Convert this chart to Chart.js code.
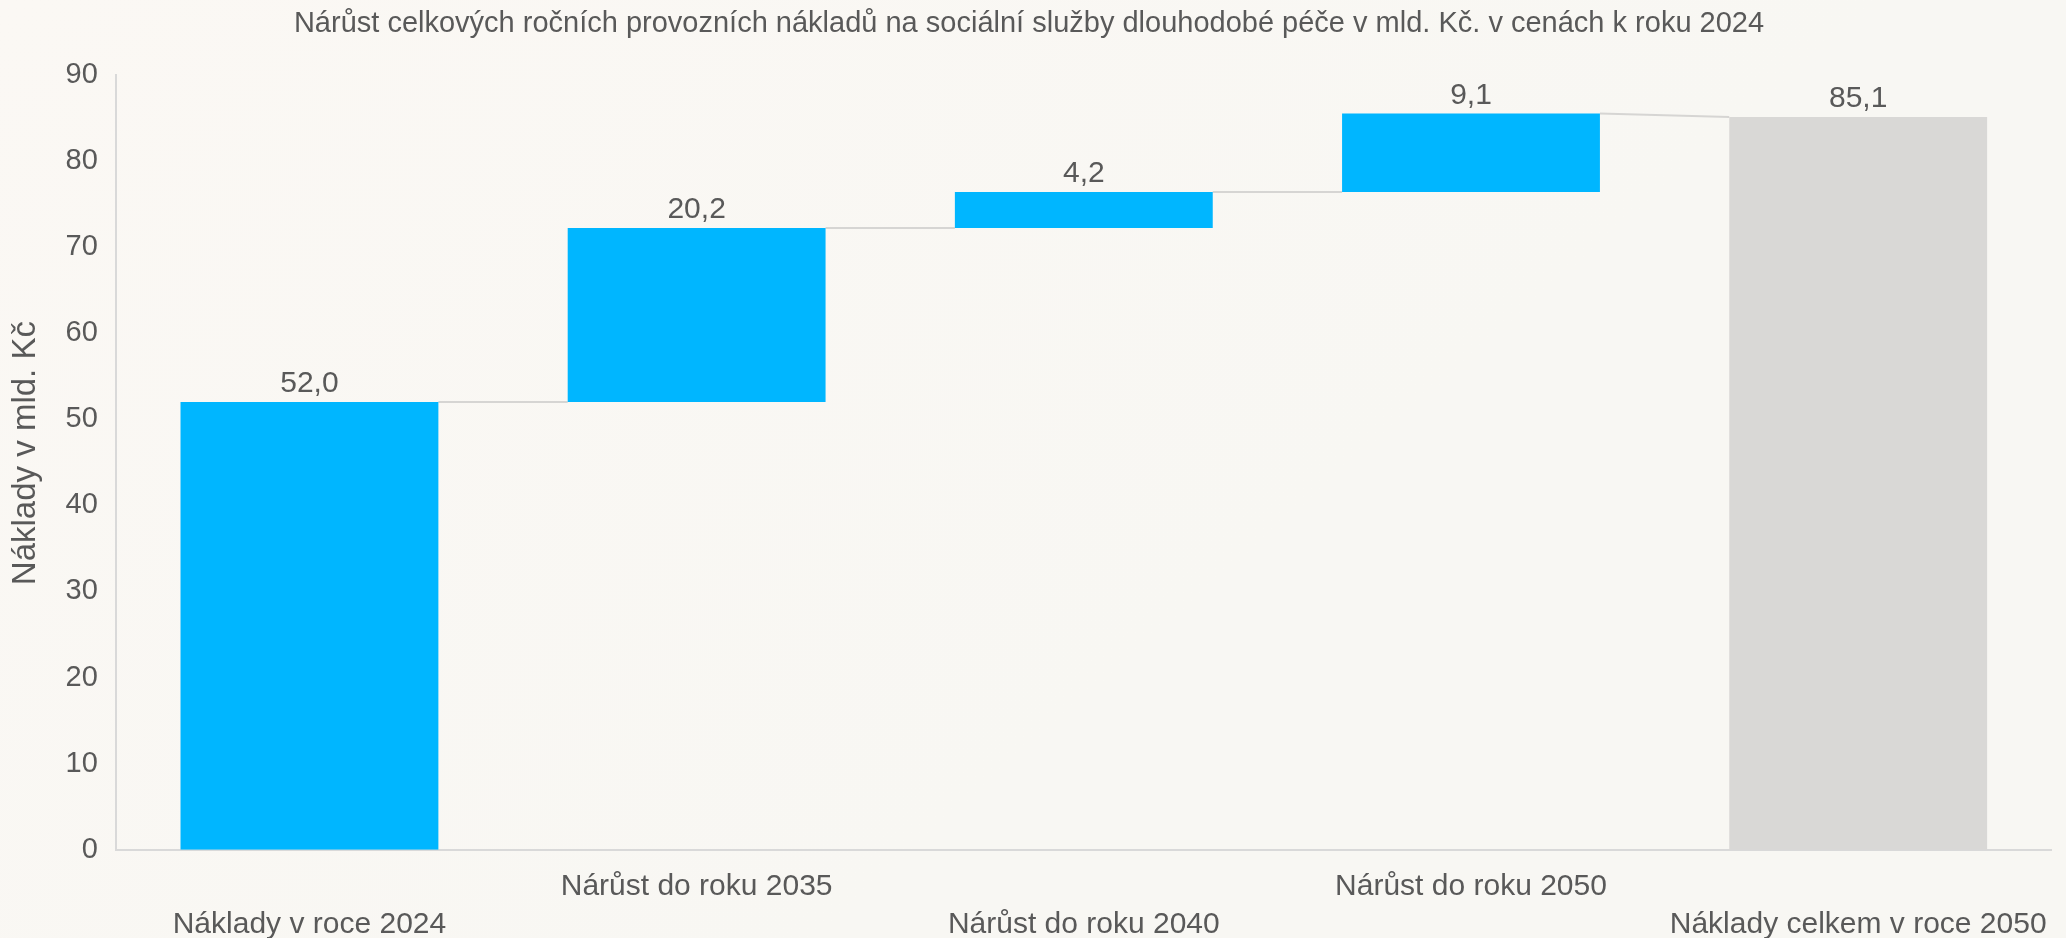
<!DOCTYPE html>
<html lang="cs">
<head>
<meta charset="utf-8">
<title>Nárůst nákladů – vodopád</title>
<script src="https://cdn.jsdelivr.net/npm/chart.js@4.4.1/dist/chart.umd.min.js"></script>
<style>
  html, body { margin: 0; padding: 0; background: #f8f7f3; }
  #wrap { width: 2066px; height: 938px; }
</style>
</head>
<body>
<div id="wrap"><canvas id="waterfall" width="2066" height="938"></canvas></div>
<script>
const categories = ['Náklady v roce 2024', 'Nárůst do roku 2035', 'Nárůst do roku 2040', 'Nárůst do roku 2050', 'Náklady celkem v roce 2050']
const changes = [52.0, 20.2, 4.2, 9.1, 85.1]
const isTotal = [true, false, false, false, true]
const yTicks = [0, 10, 20, 30, 40, 50, 60, 70, 80, 90]

const BLUE = '#00b6ff'
const GREY = '#d9d8d6'
const TEXT = '#595959'
const FONT = "'Liberation Sans', Arial, sans-serif"

// floating bars: [start, end]
let run = 0
const ranges = changes.map((v, i) => {
  if (isTotal[i]) { run = v; return [0, v] }
  const r = [run, run + v]
  run += v
  return r
})

// staggered category labels, odd ones on the upper row
const labels = categories.map((c, i) => i % 2 ? [c, ''] : ['', c])

const fmt = v => v.toFixed(1).replace('.', ',')

const background = {
  id: 'background',
  beforeDraw(chart) {
    const { ctx, width, height } = chart
    const g = ctx.createLinearGradient(0, 0, width * 0.4, height)
    g.addColorStop(0, '#fbf8f4')
    g.addColorStop(1, '#f8f7f3')
    ctx.save()
    ctx.fillStyle = g
    ctx.fillRect(0, 0, width, height)
    ctx.restore()
  }
}

const connectors = {
  id: 'connectors',
  beforeDatasetsDraw(chart) {
    const { ctx } = chart
    const y = chart.scales.y
    const bars = chart.getDatasetMeta(0).data
    ctx.save()
    ctx.strokeStyle = '#d6d5d3'
    ctx.lineWidth = 2
    for (let i = 0; i < bars.length - 1; i++) {
      const a = bars[i], b = bars[i + 1]
      const from = ranges[i][1]
      const to = isTotal[i + 1] ? ranges[i + 1][1] : ranges[i + 1][0]
      ctx.beginPath()
      ctx.moveTo(a.x + a.width / 2, y.getPixelForValue(from))
      ctx.lineTo(b.x - b.width / 2, y.getPixelForValue(to))
      ctx.stroke()
    }
    ctx.restore()
  }
}

const valueLabels = {
  id: 'valueLabels',
  afterDatasetsDraw(chart) {
    const { ctx } = chart
    const y = chart.scales.y
    const bars = chart.getDatasetMeta(0).data
    ctx.save()
    ctx.font = `30px ${FONT}`
    ctx.fillStyle = TEXT
    ctx.textAlign = 'center'
    ctx.textBaseline = 'alphabetic'
    bars.forEach((b, i) => {
      const top = y.getPixelForValue(Math.max(...ranges[i]))
      ctx.fillText(fmt(changes[i]), b.x, top - 10)
    })
    ctx.restore()
  }
}

new Chart(document.getElementById('waterfall'), {
  type: 'bar',
  data: {
    labels,
    datasets: [{
      data: ranges,
      backgroundColor: isTotal.map((t, i) => i === changes.length - 1 ? GREY : BLUE),
      borderWidth: 0,
      barPercentage: 0.666,
      categoryPercentage: 1,
    }],
  },
  options: {
    responsive: false,
    animation: false,
    layout: { padding: { left: 6, right: 14, top: 0, bottom: -24 } },
    plugins: {
      legend: { display: false },
      tooltip: { enabled: false },
      title: {
        display: true,
        text: 'Nárůst celkových ročních provozních nákladů na sociální služby dlouhodobé péče v mld. Kč. v cenách k roku 2024',
        color: TEXT,
        font: { family: FONT, size: 29, weight: 'normal', lineHeight: 1.2 },
        padding: { top: 7, bottom: 33 },
      },
    },
    scales: {
      x: {
        grid: { display: false, drawTicks: false },
        border: { display: true, color: '#d9d9d9', width: 2 },
        ticks: {
          color: TEXT,
          font: { family: FONT, size: 30, lineHeight: 1.27 },
          autoSkip: false,
          maxRotation: 0,
          padding: 18,
        },
      },
      y: {
        min: 0,
        max: 90,
        afterBuildTicks: axis => { axis.ticks = yTicks.map(v => ({ value: v })) },
        grid: { display: false, drawTicks: false },
        border: { display: true, color: '#d9d9d9', width: 2 },
        ticks: {
          color: TEXT,
          font: { family: FONT, size: 29 },
          padding: 18,
        },
        title: {
          display: true,
          // leading spaces nudge the rotated title a little upward, as in the original
          text: '  Náklady v mld. Kč',
          color: TEXT,
          font: { family: FONT, size: 33, lineHeight: 1.2 },
          padding: { top: 0, bottom: 2 },
        },
      },
    },
  },
  plugins: [background, connectors, valueLabels],
})
</script>
</body>
</html>
